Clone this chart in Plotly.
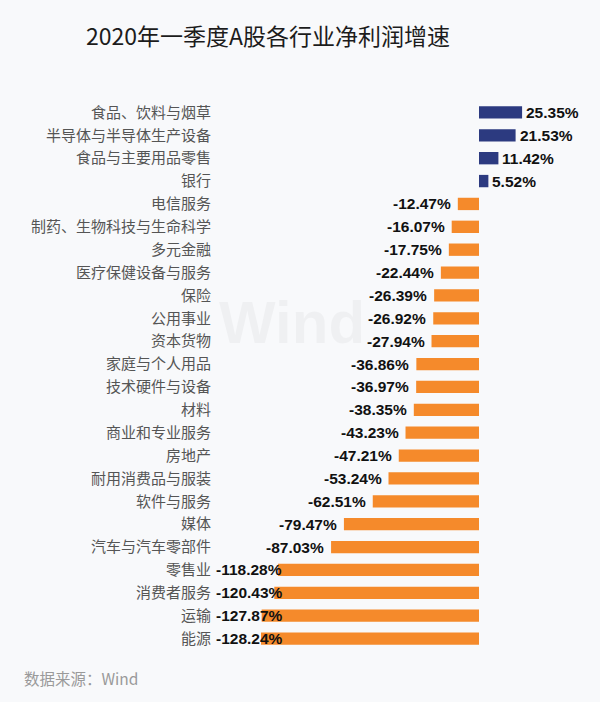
import plotly.graph_objects as go

categories = ["食品、饮料与烟草", "半导体与半导体生产设备", "食品与主要用品零售", "银行",
              "电信服务", "制药、生物科技与生命科学", "多元金融", "医疗保健设备与服务",
              "保险", "公用事业", "资本货物", "家庭与个人用品", "技术硬件与设备", "材料",
              "商业和专业服务", "房地产", "耐用消费品与服装", "软件与服务", "媒体",
              "汽车与汽车零部件", "零售业", "消费者服务", "运输", "能源"]
values = [25.35, 21.53, 11.42, 5.52, -12.47, -16.07, -17.75, -22.44, -26.39, -26.92,
          -27.94, -36.86, -36.97, -38.35, -43.23, -47.21, -53.24, -62.51, -79.47,
          -87.03, -118.28, -120.43, -127.87, -128.24]

POS = "#2C3A80"
NEG = "#F58A2B"
XMIN, XMAX = -155.9, 65.3
PX_PER_UNIT = 376 / (XMAX - XMIN)

colors = [POS if v > 0 else NEG for v in values]

fig = go.Figure(go.Bar(
    y=categories, x=values, orientation="h",
    marker=dict(color=colors, line=dict(width=0)),
    hoverinfo="skip",
))

plot_l, plot_r, plot_t, plot_b = 214, 590, 101, 650

LABEL_FONT = dict(family="Liberation Sans, Arial", size=15.5, color="#111111")
annotations = [dict(x=(292 - plot_l) / (plot_r - plot_l), y=(plot_b - 322) / (plot_b - plot_t),
                    xanchor="center", yanchor="middle",
                    xref="paper", yref="paper", text="<b>Wind</b>", showarrow=False,
                    font=dict(family="Liberation Sans, Arial", size=60,
                              color="rgba(0,0,0,0.035)"))]
for c, v in zip(categories, values):
    txt = f"{v:.2f}%"
    if v > 0:
        annotations.append(dict(x=v, y=c, xref="x", yref="y", text=f"<b>{txt}</b>",
                                xanchor="left", xshift=2, showarrow=False, font=LABEL_FONT))
    else:
        est_w = 4.85 * 15.5 if len(txt) >= 8 else 3.75 * 15.5
        left_px = (v - XMIN) * PX_PER_UNIT - 6 - est_w
        if left_px < 0:
            annotations.append(dict(x=0, y=c, xref="paper", yref="y", text=f"<b>{txt}</b>",
                                    xanchor="left", xshift=0, showarrow=False, font=LABEL_FONT))
        else:
            annotations.append(dict(x=v, y=c, xref="x", yref="y", text=f"<b>{txt}</b>",
                                    xanchor="right", xshift=-5, showarrow=False, font=LABEL_FONT))

annotations.append(dict(x=(22 - plot_l) / (plot_r - plot_l), xanchor="left",
                        y=(plot_b - 678) / (plot_b - plot_t), yanchor="middle",
                        xref="paper", yref="paper", text="数据来源：Wind", showarrow=False,
                        font=dict(family="Noto Sans CJK SC", size=15.5, color="#9a9a9a")))

fig.update_layout(
    width=600, height=702,
    margin=dict(l=plot_l, r=600 - plot_r, t=plot_t, b=702 - plot_b),
    paper_bgcolor="#F8F9FB", plot_bgcolor="#F8F9FB",
    showlegend=False,
    bargap=0.46,
    title=dict(text="2020年一季度A股各行业净利润增速", x=268 / 600, xanchor="center",
               y=1 - 37 / 702, yanchor="middle",
               font=dict(family="Noto Sans CJK SC", size=23, color="#1c1c1c")),
    xaxis=dict(range=[XMIN, XMAX], visible=False, fixedrange=True),
    yaxis=dict(autorange="reversed", showgrid=False, zeroline=False, showline=False,
               ticks="", ticklabelstandoff=2,
               tickfont=dict(family="Noto Sans CJK SC", size=15, color="#555555")),
    annotations=annotations,
)

fig.write_html("out.html")
